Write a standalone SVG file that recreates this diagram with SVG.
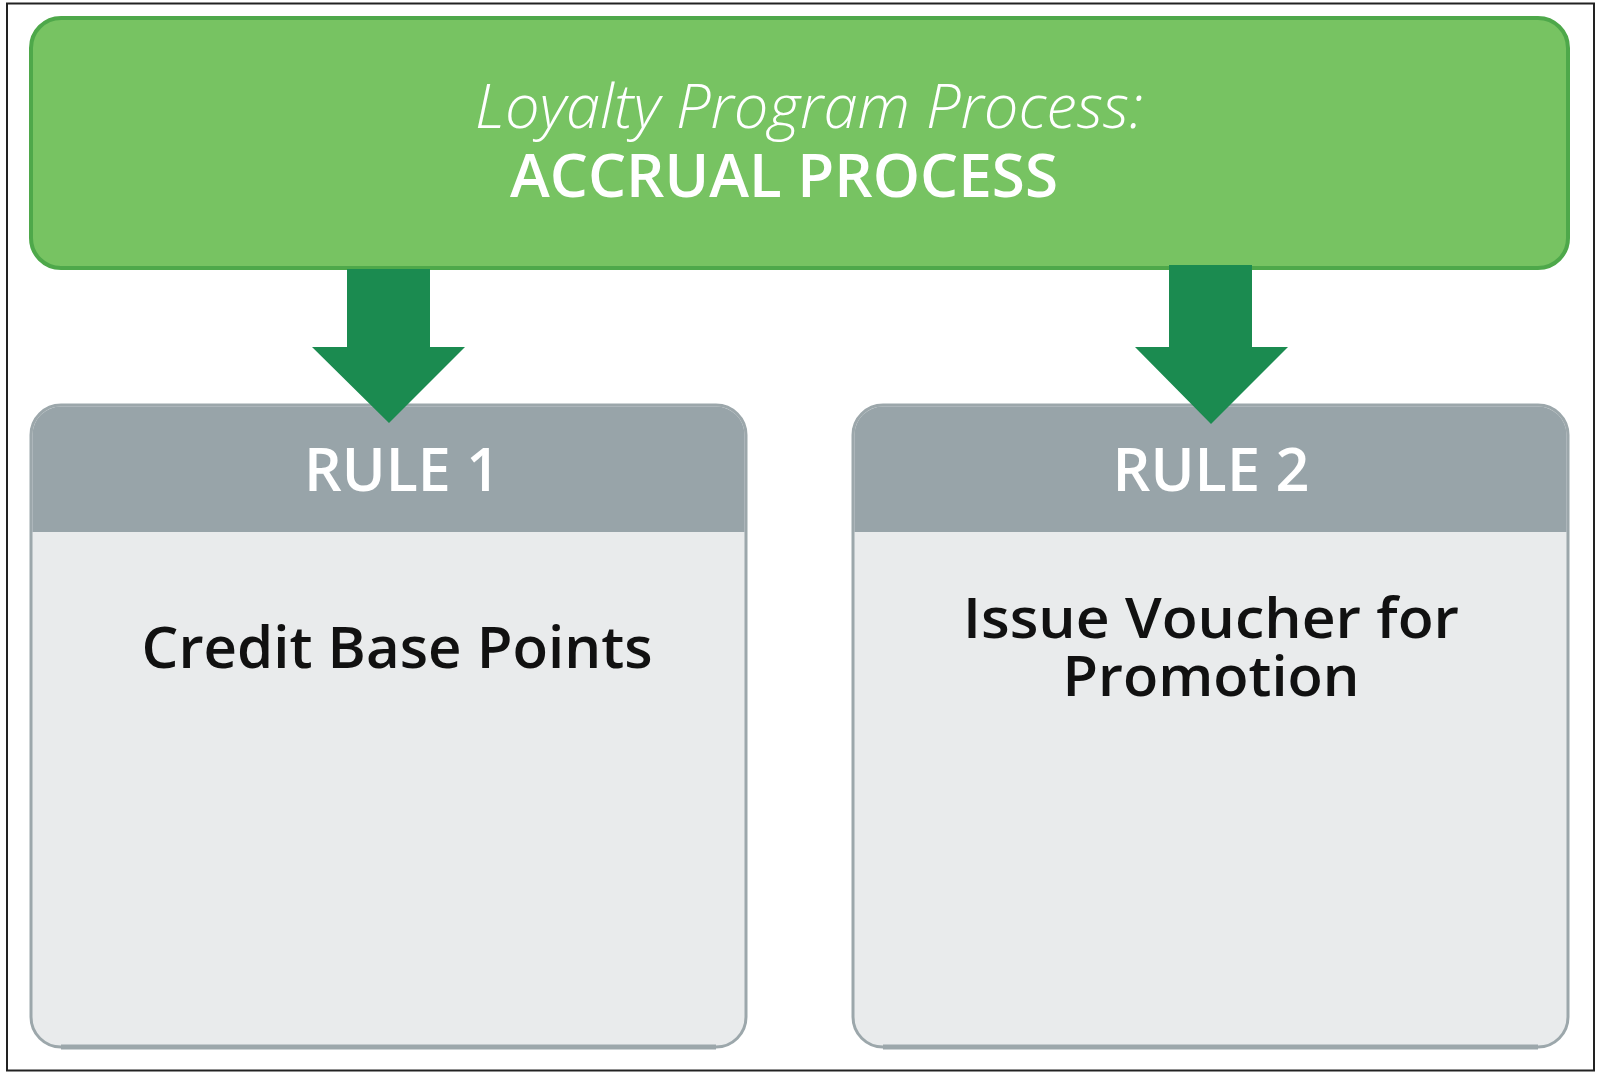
<svg xmlns="http://www.w3.org/2000/svg" width="1600" height="1076" viewBox="0 0 1600 1076">
  <style>
    .title-it { font-family: "Open Sans", "Lato", "Liberation Sans", sans-serif; font-style: italic; font-weight: 300; fill: #ffffff; }
    .title-b { font-family: "Open Sans", "Lato", "Liberation Sans", sans-serif; font-weight: 600; fill: #ffffff; }
    .rule-h { font-family: "Open Sans", "Lato", "Liberation Sans", sans-serif; font-weight: 600; fill: #ffffff; }
    .body-t { font-family: "Open Sans", "Lato", "Liberation Sans", sans-serif; font-weight: 600; fill: #111111; }
    .box { fill: #E9EBEC; stroke: #9CA7AB; stroke-width: 3; }
    .hdr { fill: #98A4A9; }
    .arrow { fill: #1B8B50; }
  </style>
  <rect x="0" y="0" width="1600" height="1076" fill="#ffffff"/>
  <rect x="7" y="3.5" width="1587" height="1067" fill="none" stroke="#222222" stroke-width="2"/>

  <g id="header-node">
    <rect x="31" y="18" width="1537" height="250" rx="30" fill="#77C362" stroke="#4EA84A" stroke-width="4"/>
    <text class="title-it" x="809" y="128" font-size="60" text-anchor="middle" textLength="668" lengthAdjust="spacingAndGlyphs">Loyalty Program Process:</text>
    <text class="title-b" x="784" y="197" font-size="60" text-anchor="middle" textLength="548" lengthAdjust="spacingAndGlyphs">ACCRUAL PROCESS</text>
  </g>

  <g id="rule1-node">
    <rect class="box" x="31" y="405" width="715" height="642" rx="30"/>
    <path d="M61,1047 H716" stroke="#9CA7AB" stroke-width="5" fill="none"/>
    <path class="hdr" d="M32.5,532 V435 A28.5,28.5 0 0 1 61,406.5 H716 A28.5,28.5 0 0 1 744.5,435 V532 Z"/>
    <text class="rule-h" x="402" y="491" font-size="60" text-anchor="middle" textLength="196" lengthAdjust="spacingAndGlyphs">RULE 1</text>
    <text class="body-t" x="397" y="668" font-size="58" text-anchor="middle" textLength="511" lengthAdjust="spacingAndGlyphs">Credit Base Points</text>
  </g>

  <g id="rule2-node">
    <rect class="box" x="853" y="405" width="715" height="642" rx="30"/>
    <path d="M883,1047 H1538" stroke="#9CA7AB" stroke-width="5" fill="none"/>
    <path class="hdr" d="M854.5,532 V435 A28.5,28.5 0 0 1 883,406.5 H1538 A28.5,28.5 0 0 1 1566.5,435 V532 Z"/>
    <text class="rule-h" x="1211" y="491" font-size="60" text-anchor="middle" textLength="197" lengthAdjust="spacingAndGlyphs">RULE 2</text>
    <text class="body-t" x="1211" y="638" font-size="56" text-anchor="middle" textLength="496" lengthAdjust="spacingAndGlyphs">Issue Voucher for</text>
    <text class="body-t" x="1211" y="696" font-size="56" text-anchor="middle" textLength="297" lengthAdjust="spacingAndGlyphs">Promotion</text>
  </g>

  <g id="connectors">
    <polygon class="arrow" points="347,269 430,269 430,347 465,347 389,423 312,347 347,347"/>
    <polygon class="arrow" points="1169,265 1252,265 1252,347 1288,347 1211,424 1135,347 1169,347"/>
  </g>
</svg>
